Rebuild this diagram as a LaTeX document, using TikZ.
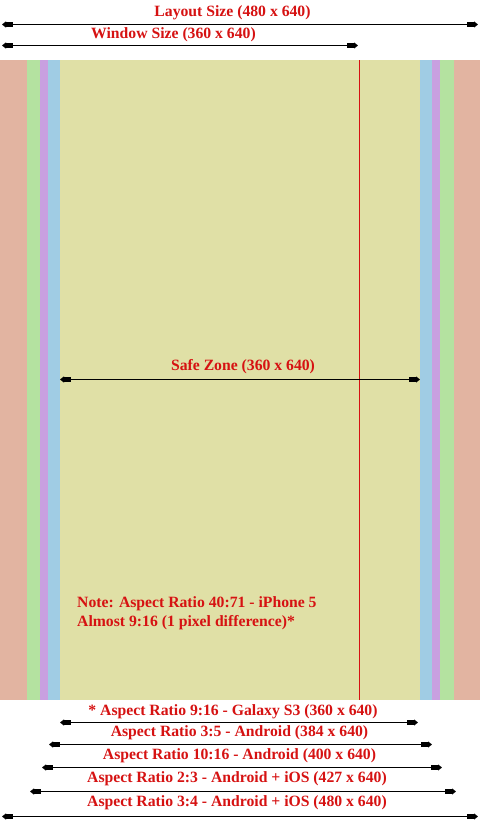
\documentclass[tikz,border=0pt]{standalone}
\usepackage{fontspec}
\setmainfont{Liberation Serif}
\usetikzlibrary{arrows.meta}
\definecolor{salmonband}{RGB}{226,180,161}
\definecolor{greenband}{RGB}{180,226,160}
\definecolor{purpleband}{RGB}{200,160,224}
\definecolor{blueband}{RGB}{160,204,228}
\definecolor{yellowband}{RGB}{224,224,166}
\definecolor{labelred}{RGB}{214,18,18}
\tikzset{
  lbl/.style={text=labelred, font=\fontsize{15.7}{19}\selectfont\bfseries, inner sep=0pt},
  blocktip/.tip={Rectangle[length=7pt,width=5pt] Triangle[length=4pt,width=6pt]},
  dim/.style={draw=black, line width=1pt, {blocktip}-{blocktip}},
}
\begin{document}
\begin{tikzpicture}[x=1pt,y=-1pt]
\useasboundingbox[fill=white] (0,0) rectangle (480,840);
% bands
\fill[salmonband] (0,60) rectangle (480,700);
\fill[greenband] (26.5,60) rectangle (453.5,700);
\fill[purpleband] (40,60) rectangle (440,700);
\fill[blueband] (48,60) rectangle (432,700);
\fill[yellowband] (60,60) rectangle (420,700);
% red marker line (window edge)
\fill[fill=labelred] (358.6,60) rectangle (360,700);
% top
\node[lbl] (layout) at (232.5,13) {Layout Size (480 x 640)};
\coordinate (l1) at (2,24.5); \coordinate (l2) at (478,24.5);
\draw[dim] (l1) -- (l2);
\node[lbl] (window) at (173.5,34.5) {Window Size (360 x 640)};
\coordinate (w1) at (2,45.5); \coordinate (w2) at (358,45.5);
\draw[dim] (w1) -- (w2);
% safe zone
\node[lbl] (safe) at (243,367) {Safe Zone (360 x 640)};
\coordinate (s1) at (60,379.5); \coordinate (s2) at (420,379.5);
\draw[dim] (s1) -- (s2);
% note
\node[lbl, anchor=west] (note1) at (77,604) {Note: Aspect Ratio 40:71 - iPhone 5};
\node[lbl, anchor=west] (note2) at (77,623) {Almost 9:16 (1 pixel difference)*};
% bottom
\node[lbl] (a1) at (233,711.5) {* Aspect Ratio 9:16 - Galaxy S3 (360 x 640)};
\coordinate (a1l) at (60,722.5); \coordinate (a1r) at (418,722.5);
\draw[dim] (a1l) -- (a1r);
\node[lbl] (a2) at (239.5,733) {Aspect Ratio 3:5 - Android (384 x 640)};
\coordinate (a2l) at (49,744.5); \coordinate (a2r) at (432,744.5);
\draw[dim] (a2l) -- (a2r);
\node[lbl] (a3) at (239.5,756) {Aspect Ratio 10:16 - Android (400 x 640)};
\coordinate (a3l) at (42,767.5); \coordinate (a3r) at (442,767.5);
\draw[dim] (a3l) -- (a3r);
\node[lbl] (a4) at (237,779) {Aspect Ratio 2:3 - Android + iOS (427 x 640)};
\coordinate (a4l) at (30,791.5); \coordinate (a4r) at (456,791.5);
\draw[dim] (a4l) -- (a4r);
\node[lbl] (a5) at (237,803) {Aspect Ratio 3:4 - Android + iOS (480 x 640)};
\coordinate (a5l) at (2,816.5); \coordinate (a5r) at (478,816.5);
\draw[dim] (a5l) -- (a5r);
\end{tikzpicture}
\end{document}
